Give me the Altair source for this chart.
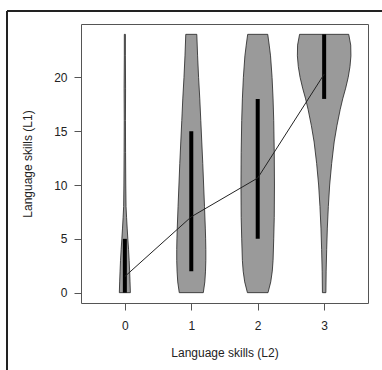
import altair as alt
import pandas as pd

# Violin outlines: y values and half-widths (x units) per L2 group
ys0 = [0, 1, 2, 3, 4, 5, 6, 7, 8, 10, 13, 16, 19, 22, 24]
w0 = [0.083, 0.078, 0.072, 0.065, 0.056, 0.045, 0.035, 0.026, 0.018, 0.014, 0.011, 0.009, 0.011, 0.008, 0.008]

ys1 = [0, 1, 2, 3, 4, 5, 6, 8, 10, 12, 14, 16, 18, 20, 22, 24]
w1 = [0.181, 0.204, 0.214, 0.219, 0.219, 0.216, 0.211, 0.199, 0.186, 0.173, 0.158, 0.143, 0.128, 0.110, 0.095, 0.083]

ys2 = [0, 1, 2, 3, 5, 7, 10, 13, 16, 18, 20, 22, 23, 24]
w2 = [0.155, 0.196, 0.219, 0.231, 0.241, 0.249, 0.252, 0.249, 0.241, 0.231, 0.216, 0.193, 0.173, 0.151]

ys3 = [0, 2, 4, 6, 8, 10, 12, 14, 15.5, 17, 18, 19, 20, 21, 22, 23, 24]
w3 = [0.026, 0.030, 0.038, 0.048, 0.063, 0.083, 0.113, 0.151, 0.192, 0.241, 0.279, 0.324, 0.362, 0.389, 0.403, 0.400, 0.370]

groups = [0, 1, 2, 3]
bar_lo = [0, 2, 5, 18]
bar_hi = [5, 15, 18, 24]
means = [1.5, 7.05, 10.65, 20.3]

x_ticks = [0, 1, 2, 3]
y_ticks = [0, 5, 10, 15, 20]

rows = []
for g, ys, ws in zip(groups, [ys0, ys1, ys2, ys3], [w0, w1, w2, w3]):
    for y, w in zip(ys, ws):
        rows.append({"g": g, "y": y, "left": g - w, "right": g + w})
vdf = pd.DataFrame(rows)
bdf = pd.DataFrame({"g": groups, "lo": bar_lo, "hi": bar_hi, "mean": means})

xs = alt.Scale(domain=[-0.66, 3.66], nice=False, zero=False)
ysc = alt.Scale(domain=[-0.96, 24.96], nice=False, zero=False)

xaxis = alt.Axis(values=x_ticks, format="d", title="Language skills (L2)", grid=False,
                 domain=False, tickSize=7, tickColor="#555", labelPadding=10,
                 titlePadding=16)
yaxis = alt.Axis(values=y_ticks, format="d", title="Language skills (L1)", grid=False,
                 domain=False, tickSize=7, tickColor="#555", labelPadding=7,
                 titlePadding=19)

violin = alt.Chart(vdf).mark_area(orient="horizontal", color="#9a9a9a",
                                  stroke="#222", strokeWidth=0.8).encode(
    y=alt.Y("y:Q", scale=ysc, axis=yaxis),
    x=alt.X("left:Q", scale=xs, axis=xaxis),
    x2="right:Q",
    detail="g:N",
)

bars = alt.Chart(bdf).mark_rule(color="black", strokeWidth=4).encode(
    x=alt.X("g:Q", scale=xs),
    y=alt.Y("lo:Q", scale=ysc),
    y2="hi:Q",
)

line = alt.Chart(bdf).mark_line(color="#222", strokeWidth=1).encode(
    x=alt.X("g:Q", scale=xs),
    y=alt.Y("mean:Q", scale=ysc),
)

frame_top = alt.Chart(bdf).mark_rule(color="#222", strokeWidth=2).encode(
    x=alt.value(-74), x2=alt.value(400), y=alt.value(-13))
frame_left = alt.Chart(bdf).mark_rule(color="#222", strokeWidth=2).encode(
    x=alt.value(-74), y=alt.value(-13), y2=alt.value(400))

chart = alt.layer(violin, bars, line, frame_top, frame_left).properties(
    width=287, height=279,
    autosize=alt.AutoSizeParams(type="none"),
    padding={"left": 81, "top": 24, "right": 14, "bottom": 67},
    background="white",
).configure_view(
    stroke="#555", strokeWidth=1
).configure_axis(
    labelFont="Liberation Sans", titleFont="Liberation Sans",
    labelFontSize=12, titleFontSize=12, labelColor="#222", titleColor="#222",
    titleFontWeight="normal", labelAngle=0
)

chart.save("out.html", embed_options={"renderer": "svg", "actions": False})
